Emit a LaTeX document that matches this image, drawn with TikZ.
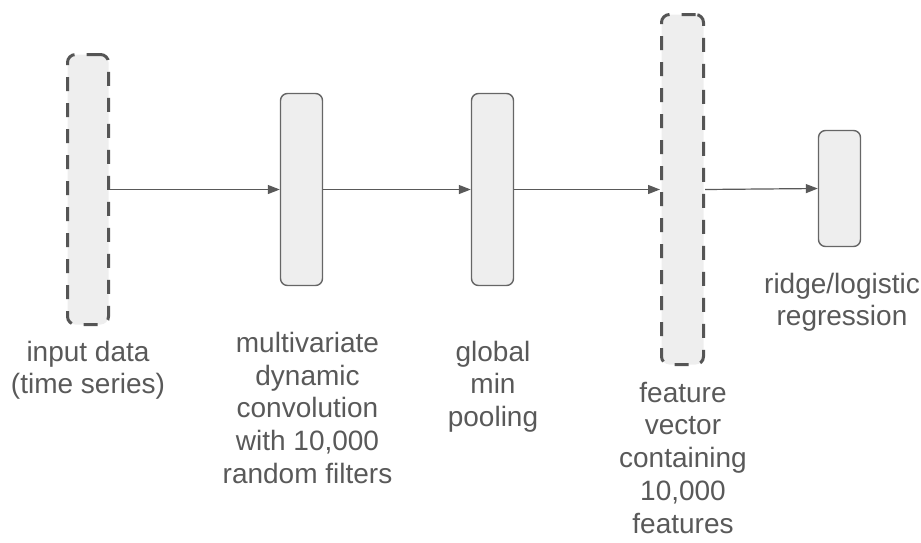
\documentclass[tikz,border=0pt]{standalone}
\usepackage{fontspec}
\setmainfont{Liberation Sans}
\usetikzlibrary{arrows.meta}
\definecolor{boxfill}{HTML}{EEEEEE}
\definecolor{boxline}{HTML}{666666}
\definecolor{dashline}{HTML}{555555}
\definecolor{txt}{HTML}{595959}
\definecolor{arr}{HTML}{595959}
\tikzset{
  solidbox/.style={draw=boxline, fill=boxfill, line width=1.4pt, rounded corners=7pt, inner sep=0pt},
  dashbox/.style={draw=dashline, fill=boxfill, line width=3pt, rounded corners=8pt, inner sep=0pt, dash pattern=on 14pt off 12pt},
  lbl/.style={font=\fontsize{28}{32.8}\selectfont, text=txt, align=center, inner sep=0pt, anchor=north},
  conn/.style={draw=arr, line width=1.2pt, -{Triangle[length=12pt,width=9pt]}}
}
\begin{document}
\begin{tikzpicture}[x=1pt,y=-1pt]
\useasboundingbox (0,0) rectangle (921,542);
\node[dashbox, minimum width=41pt, minimum height=270pt] (inp) at (88,189.5) {};
\node[solidbox, minimum width=42pt, minimum height=192pt] (conv) at (301.5,189.5) {};
\node[solidbox, minimum width=42pt, minimum height=192pt] (pool) at (492.5,189.5) {};
\node[dashbox, minimum width=42pt, minimum height=350pt] (feat) at (682.5,189.5) {};
\node[solidbox, minimum width=42pt, minimum height=116pt] (ridge) at (839.5,188.5) {};
\draw[conn] (inp.east) -- (conv.west);
\draw[conn] (conv.east) -- (pool.west);
\draw[conn] (pool.east) -- (feat.west);
\draw[conn] (feat.east) -- (ridge.west);
\node[lbl] (linp) at (88,340.7) {input data\\(time series)};
\node[lbl] (lconv) at (307.5,331.7) {multivariate\\dynamic\\convolution\\with 10,000\\random filters};
\node[lbl] (lpool) at (493,340.7) {global\\min\\pooling};
\node[lbl] (lfeat) at (683,381.7) {feature\\vector\\containing\\10,000\\features};
\node[lbl] (lridge) at (842,272.7) {ridge/logistic\\regression};
\end{tikzpicture}
\end{document}
